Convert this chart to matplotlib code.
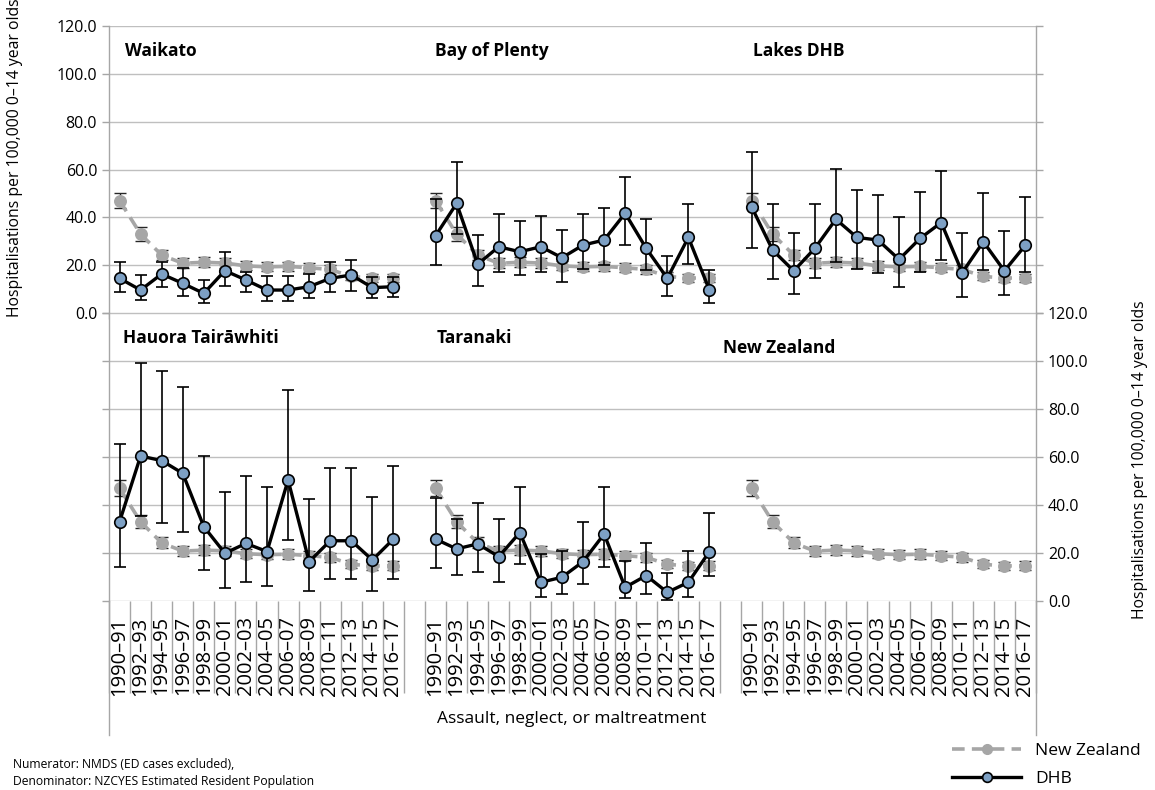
import matplotlib
matplotlib.use("Agg")
import matplotlib.pyplot as plt
import matplotlib.transforms as mtransforms
from matplotlib.lines import Line2D
import numpy as np

plt.rcParams['font.family'] = ['Open Sans', 'DejaVu Sans']

# data
years = ['1990–91', '1992–93', '1994–95', '1996–97', '1998–99', '2000–01', '2002–03',
         '2004–05', '2006–07', '2008–09', '2010–11', '2012–13', '2014–15', '2016–17']

nz = [47.0, 33.0, 24.2, 20.8, 21.2, 20.9, 19.7, 19.3, 19.5, 18.9, 18.2, 15.3, 14.6, 14.7]
nz_lo = [43.8, 30.3, 22.0, 18.8, 19.2, 18.9, 17.8, 17.4, 17.6, 17.0, 16.3, 13.6, 12.9, 13.0]
nz_hi = [50.3, 35.8, 26.5, 22.9, 23.3, 23.0, 21.7, 21.3, 21.5, 20.9, 20.2, 17.1, 16.4, 16.5]

waikato = [14.5, 9.6, 16.3, 12.4, 8.2, 17.7, 13.8, 9.6, 9.6, 11.0, 14.5, 15.9, 10.6, 11.0]
waikato_lo = [8.6, 5.4, 10.7, 7.2, 4.0, 11.4, 8.6, 5.2, 5.2, 6.1, 8.6, 9.3, 6.1, 6.5]
waikato_hi = [21.2, 15.9, 21.5, 18.7, 13.8, 25.4, 17.3, 15.5, 15.5, 16.3, 21.2, 22.2, 14.9, 15.2]

bop = [32.3, 45.8, 20.4, 27.7, 25.6, 27.7, 23.1, 28.4, 30.5, 41.7, 27.0, 14.5, 31.6, 9.6]
bop_lo = [20.1, 33.0, 11.3, 17.3, 15.9, 17.3, 13.1, 18.5, 20.0, 28.4, 18.0, 7.2, 20.5, 4.0]
bop_hi = [47.5, 63.3, 32.6, 41.4, 38.6, 40.6, 34.7, 41.4, 44.0, 56.7, 39.3, 24.0, 45.4, 18.0]

lakes = [44.4, 26.3, 17.6, 27.0, 39.2, 31.6, 30.5, 22.4, 31.2, 37.8, 16.9, 29.8, 17.6, 28.4]
lakes_lo = [27.3, 14.1, 7.9, 14.8, 21.5, 18.3, 16.9, 10.7, 17.3, 22.2, 6.8, 18.0, 7.5, 17.0]
lakes_hi = [67.4, 45.4, 33.3, 45.4, 60.1, 51.4, 49.3, 40.0, 50.7, 59.4, 33.3, 50.0, 34.3, 48.6]

tairawhiti = [33.0, 60.4, 58.5, 53.2, 31.0, 19.9, 24.0, 20.6, 50.4, 16.4, 25.1, 25.1, 17.1, 25.8]
tairawhiti_lo = [14.3, 35.4, 32.4, 28.9, 12.9, 5.6, 8.0, 6.3, 25.4, 4.2, 9.0, 9.0, 4.2, 9.0]
tairawhiti_hi = [65.4, 99.3, 95.8, 89.3, 60.5, 45.3, 52.1, 47.4, 87.9, 42.5, 55.3, 55.3, 43.2, 56.3]

taranaki = [25.8, 21.7, 23.8, 18.5, 28.5, 7.8, 9.9, 16.4, 27.9, 5.7, 10.6, 3.6, 7.8, 20.6]
taranaki_lo = [13.6, 10.8, 12.2, 8.0, 15.4, 1.5, 2.9, 7.0, 14.3, 1.1, 2.9, 0.4, 1.5, 10.5]
taranaki_hi = [43.0, 34.0, 41.0, 34.2, 47.4, 19.5, 21.0, 32.8, 47.4, 16.5, 24.0, 11.5, 21.0, 36.8]

top_panels = [('Waikato', waikato, waikato_lo, waikato_hi),
              ('Bay of Plenty', bop, bop_lo, bop_hi),
              ('Lakes DHB', lakes, lakes_lo, lakes_hi)]
bottom_panels = [('Hauora Tairāwhiti', tairawhiti, tairawhiti_lo, tairawhiti_hi),
                 ('Taranaki', taranaki, taranaki_lo, taranaki_hi),
                 ('New Zealand', None, None, None)]

# style
W, H = 1155, 790
GRID = '#BFBFBF'
AXC = '#A6A6A6'
NZC = '#A6A6A6'
BLUE = '#7DA0C4'
n = len(years)
gap = n + 1

fig = plt.figure(figsize=(W / 100, H / 100), dpi=100)
left, right = 109 / W, 1036 / W
ax_top = fig.add_axes([left, 1 - 313 / H, right - left, 287 / H])
ax_bot = fig.add_axes([left, 1 - 601 / H, right - left, 288 / H])

boundaries = np.arange(-0.5, 3 * gap - 0.5, 1.0)


def draw_panel(ax, g, series, lo, hi):
    x = np.arange(n) + g * gap
    nz_err = [np.array(nz) - np.array(nz_lo), np.array(nz_hi) - np.array(nz)]
    ax.errorbar(x, nz, yerr=nz_err, fmt='none', ecolor='#262626', elinewidth=1.0,
                capsize=4, capthick=1.0, zorder=3, clip_on=False)
    ax.plot(x, nz, color=NZC, lw=2.6, dashes=[3.5, 2], marker='o', markersize=8.3,
            markerfacecolor=NZC, markeredgecolor=NZC, zorder=4, clip_on=False)
    if series is not None:
        err = [np.array(series) - np.array(lo), np.array(hi) - np.array(series)]
        ax.errorbar(x, series, yerr=err, fmt='none', ecolor='black', elinewidth=1.2,
                    capsize=4.5, capthick=1.2, zorder=5, clip_on=False)
        ax.plot(x, series, color='black', lw=2.4, marker='o', markersize=8.3,
                markerfacecolor=BLUE, markeredgecolor='black', markeredgewidth=1.2,
                zorder=6, clip_on=False)


for ax in (ax_top, ax_bot):
    ax.set_xlim(-0.5, 3 * gap - 1.5)
    ax.set_ylim(0, 120)
    ax.set_yticks(np.arange(0, 121, 20))
    ax.yaxis.grid(True, color=GRID, lw=1.0)
    ax.set_axisbelow(True)
    for s in ('top', 'bottom'):
        ax.spines[s].set_visible(False)
    for s in ('left', 'right'):
        ax.spines[s].set_color(AXC)
        ax.spines[s].set_linewidth(1.0)
    ax.tick_params(axis='y', left=True, right=True, length=5, width=1.0, color=AXC,
                   labelsize=11.5, direction='out')
    ax.set_xticks(boundaries, minor=True)

for g, (name, s, lo, hi) in enumerate(top_panels):
    draw_panel(ax_top, g, s, lo, hi)
for g, (name, s, lo, hi) in enumerate(bottom_panels):
    draw_panel(ax_bot, g, s, lo, hi)

# top axes: labels left, no category labels
ax_top.tick_params(axis='y', labelleft=True, labelright=False)
ax_top.yaxis.set_major_formatter(matplotlib.ticker.FormatStrFormatter('%.1f'))
ax_top.set_xticks([])
ax_top.tick_params(axis='x', which='minor', bottom=True, length=4.5, width=1.0, color=AXC)

# bottom axes: labels right, category labels
ax_bot.tick_params(axis='y', labelleft=False, labelright=True)
ax_bot.yaxis.set_major_formatter(matplotlib.ticker.FormatStrFormatter('%.1f'))
pos = [g * gap + i for g in range(3) for i in range(n)]
ax_bot.set_xticks(pos, years * 3)
ax_bot.tick_params(axis='x', which='major', length=0, pad=11, labelsize=14.5, labelrotation=90)
ax_bot.tick_params(axis='x', which='minor', bottom=True, length=66, width=1.0, color=AXC)

# outer frame lines of the category axis
trans = mtransforms.blended_transform_factory(ax_bot.transData, ax_bot.transAxes)
for xe in (-0.5, 3 * gap - 1.5):
    ax_bot.plot([xe, xe], [0, -134 / 288], color=AXC, lw=1.0, transform=trans, clip_on=False)

# panel titles
top_title_x = [125, 435, 753]
bot_title_x = [123, 437, 723]
for (name, *_), px in zip(top_panels, top_title_x):
    fig.text(px / W, 1 - 51 / H, name, fontsize=12.5, fontweight='bold', va='center')
for (name, *_), px, py in zip(bottom_panels, bot_title_x, [338, 338, 348]):
    fig.text(px / W, 1 - py / H, name, fontsize=12.5, fontweight='bold', va='center')

ylab = 'Hospitalisations per 100,000 0–14 year olds'
fig.text(15 / W, 1 - 158 / H, ylab, rotation=90, fontsize=11.3, ha='center', va='center')
fig.text(1140 / W, 1 - 460 / H, ylab, rotation=90, fontsize=11.3, ha='center', va='center')

fig.text(572 / W, 1 - 719 / H, 'Assault, neglect, or maltreatment', fontsize=12.5,
         ha='center', va='center')

fig.text(13 / W, 1 - 764 / H, 'Numerator: NMDS (ED cases excluded),', fontsize=8.7, va='center')
fig.text(13 / W, 1 - 782 / H, 'Denominator: NZCYES Estimated Resident Population', fontsize=8.7,
         va='center')

handles = [Line2D([], [], color=NZC, lw=2.6, dashes=[3.5, 2], marker='o', markersize=7,
                  markerfacecolor=NZC, markeredgecolor=NZC),
           Line2D([], [], color='black', lw=2.4, marker='o', markersize=7,
                  markerfacecolor=BLUE, markeredgecolor='black', markeredgewidth=1.2)]
fig.legend(handles, ['New Zealand', 'DHB'], loc='upper left',
           bbox_to_anchor=(952 / W, 1 - 743 / H), frameon=False, fontsize=12.5,
           handlelength=4.0, handletextpad=0.8, labelspacing=0.65, borderpad=0,
           borderaxespad=0)

fig.savefig('out.png', dpi=100)
